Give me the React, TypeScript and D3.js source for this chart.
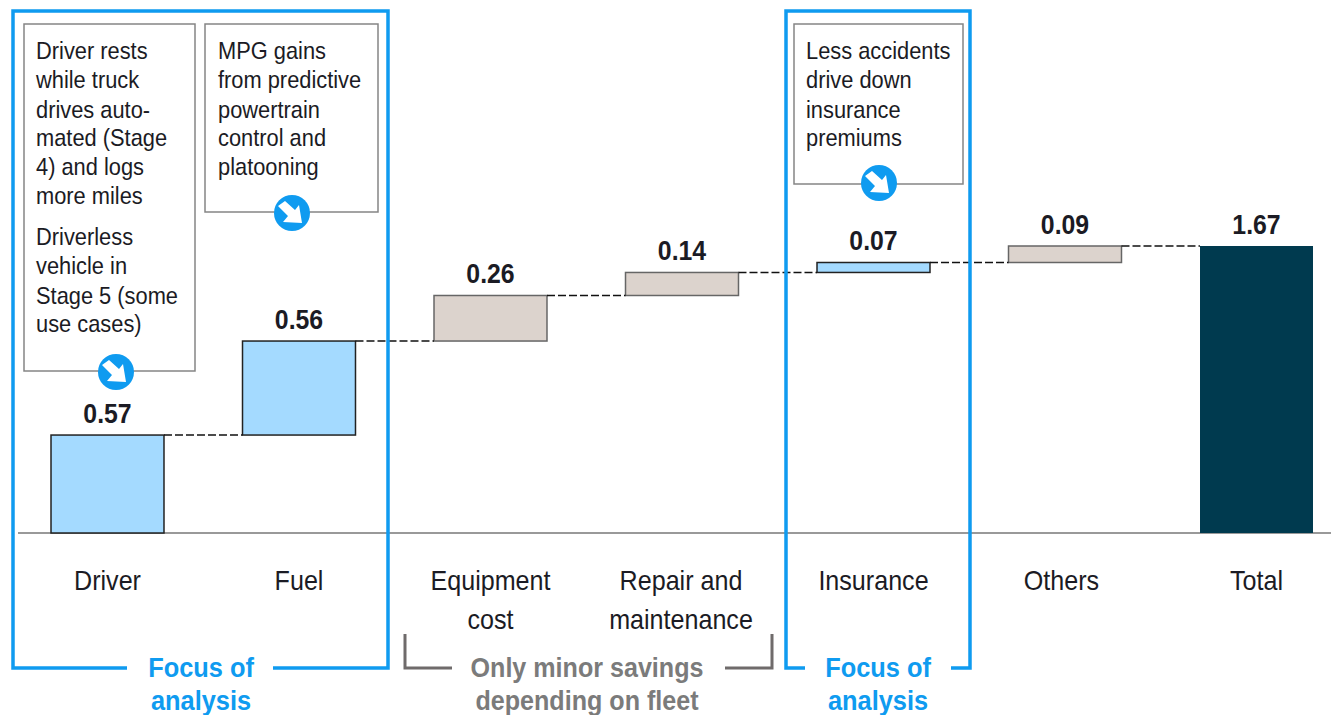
import React from "react";
import * as d3 from "d3";

const categories = ["Driver", "Fuel", "Equipment cost", "Repair and maintenance", "Insurance", "Others", "Total"];
const categoryLines = [["Driver"], ["Fuel"], ["Equipment", "cost"], ["Repair and", "maintenance"], ["Insurance"], ["Others"], ["Total"]];
const categoryNudge = [0, 0, 0, -1, 0, -3.5, 0];
const valueLabels = ["0.57", "0.56", "0.26", "0.14", "0.07", "0.09", "1.67"];
// drawn heights (labels are rounded and sum to more than the total)
const barValues = [0.57, 0.547, 0.265, 0.134, 0.058, 0.096];
const totalValue = 1.67;
const barKinds = ["focus", "focus", "minor", "minor", "focus", "minor"];

const driverNote = ["Driver rests", "while truck", "drives auto-", "mated (Stage", "4) and logs", "more miles"];
const driverNote2 = ["Driverless", "vehicle in", "Stage 5 (some", "use cases)"];
const fuelNote = ["MPG gains", "from predictive", "powertrain", "control and", "platooning"];
const insuranceNote = ["Less accidents", "drive down", "insurance", "premiums"];
const focusLabel = ["Focus of", "analysis"];
const minorLabel = ["Only minor savings", "depending on fleet"];

const BLUE = "#0f9bf0";
const GREY_TEXT = "#7b7b7b";
const TEXT = "#1b1b24";
const FONT = "'Liberation Sans', Arial, sans-serif";
const fillFor: Record<string, string> = { focus: "#a4daff", minor: "#dcd3cd" };
const strokeFor: Record<string, string> = { focus: "#222", minor: "#666" };

function Arrow({ cx, cy }: { cx: number; cy: number }) {
  return (
    <g transform={`translate(${cx},${cy})`}>
      <circle r={18} fill={BLUE} />
      <path d="M-14,-7 L-7,-12 L3,-3 L7,-8 L10,10 L-9,9 L-4,3 Z" fill="#fff" />
    </g>
  );
}

function Lines({ lines, x, ys, anchor = "start", fill = TEXT, weight = 400, size = 24, sx = 1 }: any) {
  return (
    <>
      {lines.map((t: string, i: number) => (
        <text key={t} transform={`translate(${x},${ys[i]}) scale(${sx},1)`} textAnchor={anchor} fill={fill} fontWeight={weight} fontSize={size} fontFamily={FONT}>
          {t}
        </text>
      ))}
    </>
  );
}

export default function App() {
  const x = d3.scaleBand<string>().domain(categories).range([11.75, 1352.25]).paddingInner(0.41).paddingOuter(0.205);
  const y = d3.scaleLinear().domain([0, totalValue]).range([533, 246]);
  const bw = x.bandwidth();
  const ends = d3.cumsum(barValues);
  const starts = [0, ...ends.slice(0, -1)];
  const noteYs = [59, 88, 118, 146, 175, 204];
  const noteYs2 = [245, 274, 304, 332];

  return (
    <svg width={1331} height={715} style={{ position: "absolute", left: 0, top: 0, background: "#fff" }}>
      {/* baseline */}
      <line x1={18} x2={1331} y1={y(0)} y2={y(0)} stroke="#777" strokeWidth={1.5} />

      {/* floating bars */}
      {barValues.map((v, i) => (
        <rect key={categories[i]} x={x(categories[i])} width={bw} y={y(ends[i])} height={y(starts[i]) - y(ends[i])}
          fill={fillFor[barKinds[i]]} stroke={strokeFor[barKinds[i]]} strokeWidth={1.5} />
      ))}
      <rect x={x("Total")} width={bw} y={y(totalValue)} height={y(0) - y(totalValue)} fill="#003a4f" />

      {/* connectors */}
      {categories.slice(0, -1).map((c, i) => (
        <line key={c} x1={x(c)! + bw} x2={x(categories[i + 1])!} y1={y(ends[i])} y2={y(ends[i])} stroke="#111" strokeWidth={1.5} strokeDasharray="8 3" />
      ))}

      {/* value labels */}
      {valueLabels.map((t, i) => (
        <Lines key={categories[i]} lines={[t]} x={x(categories[i])! + bw / 2} ys={[y(i < 6 ? ends[i] : totalValue) - 12]}
          anchor="middle" weight={700} size={27} sx={0.92} />
      ))}

      {/* category labels */}
      {categoryLines.map((ls, i) => (
        <Lines key={categories[i]} lines={ls} x={x(categories[i])! + bw / 2 + categoryNudge[i]} ys={[590, 629]} anchor="middle" size={27} sx={0.93} />
      ))}

      {/* note boxes */}
      <rect x={24} y={24} width={171} height={347} fill="#fff" stroke="#858585" strokeWidth={1.5} />
      <rect x={205} y={24} width={173} height={188} fill="#fff" stroke="#858585" strokeWidth={1.5} />
      <rect x={794} y={24} width={169} height={160} fill="#fff" stroke="#858585" strokeWidth={1.5} />
      <Lines lines={driverNote} x={36} ys={noteYs} sx={0.91} />
      <Lines lines={driverNote2} x={36} ys={noteYs2} sx={0.91} />
      <Lines lines={fuelNote} x={218} ys={noteYs} sx={0.91} />
      <Lines lines={insuranceNote} x={806} ys={noteYs} sx={0.91} />
      <Arrow cx={116} cy={372} />
      <Arrow cx={292} cy={213} />
      <Arrow cx={879} cy={183} />

      {/* focus frames */}
      <g fill="none" stroke={BLUE} strokeWidth={3.5}>
        <path d="M127,668 H13 V11 H388 V668 H273" />
        <path d="M805,668 H786 V11 H970 V668 H951" />
      </g>
      <path d="M405,634 V668 H452 M725,668 H772 V634" fill="none" stroke="#6f6b6b" strokeWidth={3} />

      <Lines lines={focusLabel} x={201} ys={[677, 710]} anchor="middle" fill={BLUE} weight={700} size={27} sx={0.94} />
      <Lines lines={focusLabel} x={878} ys={[677, 710]} anchor="middle" fill={BLUE} weight={700} size={27} sx={0.94} />
      <Lines lines={minorLabel} x={587} ys={[677, 710]} anchor="middle" fill={GREY_TEXT} weight={700} size={27} sx={0.93} />
    </svg>
  );
}
